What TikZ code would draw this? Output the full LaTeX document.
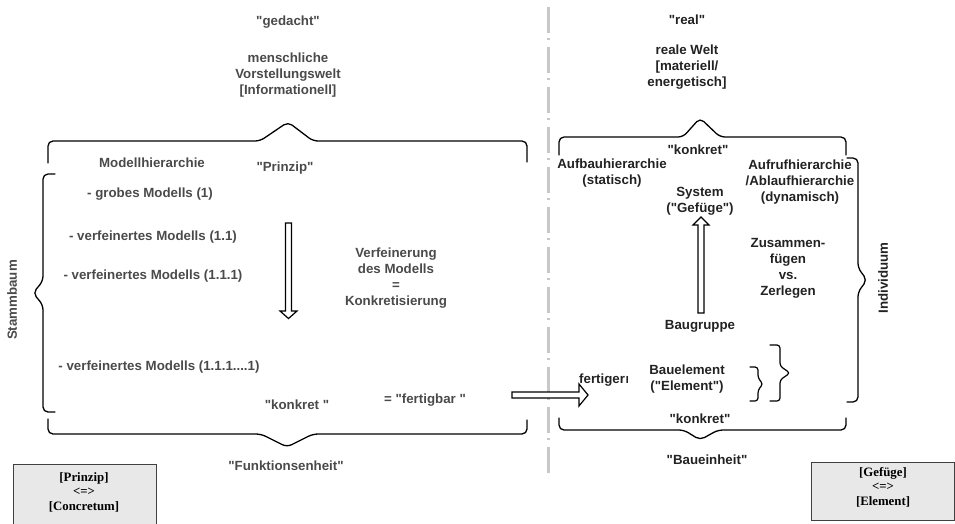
\documentclass[tikz,border=0pt]{standalone}
\usepackage{fontspec}
\setmainfont{Liberation Sans}[Ligatures=TeXOff]
\newfontfamily\boxfont{Liberation Serif}[Ligatures=TeXOff]
\usetikzlibrary{calc}
\definecolor{lefttext}{HTML}{4A4A4A}
\definecolor{righttext}{HTML}{222222}
\definecolor{dashgray}{HTML}{C8C8C8}
\definecolor{boxfill}{HTML}{E8E8E8}
\definecolor{boxline}{HTML}{404040}
\tikzset{
  lt/.style={font=\bfseries\fontsize{13.3}{16}\selectfont, text=lefttext, align=center, inner sep=0pt},
  rt/.style={lt, text=righttext},
  brace/.style={draw=black, line width=1.3pt, rounded corners=5pt, line cap=round},
  smallbrace/.style={brace, line width=1.2pt, rounded corners=3pt},
  blockarrow/.style={draw=black, line width=1.2pt, fill=white, line join=miter},
  legendbox/.style={draw=boxline, line width=0.8pt, fill=boxfill},
  legendtext/.style={font=\boxfont\bfseries\fontsize{12.8}{14.5}\selectfont, align=center, inner sep=0pt},
  divider/.style={draw=dashgray, line width=3pt, dash pattern=on 26pt off 5pt on 2pt off 7pt}
}
\begin{document}
\begin{tikzpicture}[x=1pt,y=-1pt]
\useasboundingbox (0,0) rectangle (955,523);

% divider
\coordinate (divtop) at (548,7);
\coordinate (divbot) at (548,478);
\draw[divider] (divtop) -- (divbot);

% ---------- left side ----------
\node[lt] (gedacht) at (288,22) {"gedacht"};
\node[lt] (vorst) at (288,75) {menschliche\\Vorstellungswelt\\{[Informationell]}};
\draw[brace] (48,163) -- (48,141) -- (260,141) -- (288,122) -- (313,141) -- (527,141) -- (527,162);
\draw[brace] (48,419) -- (48,434) -- (261,434) -- (287,447) -- (313,434) -- (527,434) -- (527,420);
\draw[brace] (55,174) -- (43,174) -- (43,281) -- (33,293) -- (43,305) -- (43,412) -- (55,412);

\node[lt] (mh) at (152,163) {Modellhierarchie};
\node[lt] (prinzip) at (285,168) {"Prinzip"};
\node[lt] (m1) at (150,194) {- grobes Modells (1)};
\node[lt] (m2) at (153,237) {- verfeinertes Modells (1.1)};
\node[lt] (m3) at (153,276) {- verfeinertes Modells (1.1.1)};
\node[lt] (m4) at (159,367) {- verfeinertes Modells (1.1.1....1)};
\node[lt] (konkretL) at (297,405) {"konkret "};
\node[lt] (fertigbar) at (425,400) {= "fertigbar "};
\node[lt] (funktion) at (286,466) {"Funktionsenheit"};
\node[lt] (verf) at (396,278.5) {Verfeinerung\\des Modells\\=\\Konkretisierung};
\node[lt, rotate=90] (stamm) at (12,300) {Stammbaum};

% down block arrow
\coordinate (dS) at (288.5,223);
\coordinate (dT) at (288.5,318.5);
\draw[blockarrow] ($(dS)+(-3,0)$) -- ($(dS)+(3,0)$) -- ($(dT)+(3,-7.5)$) -- ($(dT)+(8.5,-7.5)$)
  -- (dT) -- ($(dT)+(-8.5,-7.5)$) -- ($(dT)+(-3,-7.5)$) -- cycle;

% ---------- right side ----------
\node[rt] (real) at (687,20) {"real"};
\node[rt] (welt) at (687,67) {reale Welt\\{[materiell/}\\energetisch]};
\draw[brace] (559,155) -- (559,137) -- (683,137) -- (700,118) -- (720,137) -- (846,137) -- (846,155);
\draw[brace] (559,418) -- (559,430) -- (684,430) -- (700,440) -- (718,430) -- (846,430) -- (846,418);
\draw[brace] (847,158) -- (858,158) -- (858,268) -- (867,280) -- (858,292) -- (858,402) -- (847,402);

\node[rt] (konkretT) at (698,150) {"konkret"};
\node[rt] (aufbau) at (612,173.5) {Aufbauhierarchie\\(statisch)};
\node[rt] (aufruf) at (800,182) {Aufrufhierarchie\\/Ablaufhierarchie\\(dynamisch)};
\node[rt] (system) at (700,201.5) {System\\("Gefüge")};
\node[rt] (zus) at (788,268) {Zusammen-\\fügen\\vs.\\Zerlegen};
\node[rt] (baugruppe) at (700,326) {Baugruppe};
\node[rt] (bauel) at (687,379.5) {Bauelement\\("Element")};
\node[rt, anchor=west] (fertigen) at (579,380) {fertiger};
\begin{scope}
  \clip ($(fertigen.east)+(0.3,-10)$) rectangle ($(fertigen.east)+(2.6,10)$);
  \node[rt, anchor=west] (fertigenN) at ($(fertigen.east)+(0.3,0)$) {n};
\end{scope}
\node[rt] (konkretB) at (700,419) {"konkret"};
\node[rt] (baueinheit) at (707,460) {"Baueinheit"};
\node[rt, rotate=90] (indiv) at (883,278) {Individuum};

\draw[smallbrace] (750,367) -- (758,367) -- (758,378) -- (763,384) -- (758,390) -- (758,401) -- (750,401);
\draw[smallbrace] (770,345) -- (780,345) -- (780,366) -- (790,373) -- (780,380) -- (780,401) -- (770,401);

% up block arrow
\coordinate (uS) at (701,313);
\coordinate (uT) at (701,217);
\draw[blockarrow] ($(uS)+(-3,0)$) -- ($(uS)+(3,0)$) -- ($(uT)+(3,8)$) -- ($(uT)+(8,8)$)
  -- (uT) -- ($(uT)+(-8,8)$) -- ($(uT)+(-3,8)$) -- cycle;

% right block arrow
\coordinate (rS) at (512,395);
\coordinate (rT) at (588,395);
\draw[blockarrow] ($(rS)+(0,-3)$) -- ($(rT)+(-9,-3)$) -- ($(rT)+(-9,-11)$) -- (rT)
  -- ($(rT)+(-9,11)$) -- ($(rT)+(-9,3)$) -- ($(rS)+(0,3)$) -- cycle;

% legend boxes
\draw[legendbox] (13,464) rectangle (156,530);
\node[legendtext] (legL) at (84,492) {[Prinzip]\\<=>\\{[Concretum]}};
\draw[legendbox] (811,462) rectangle (954,520);
\node[legendtext] (legR) at (883,487) {[Gefüge]\\<=>\\{[Element]}};
\end{tikzpicture}
\end{document}
